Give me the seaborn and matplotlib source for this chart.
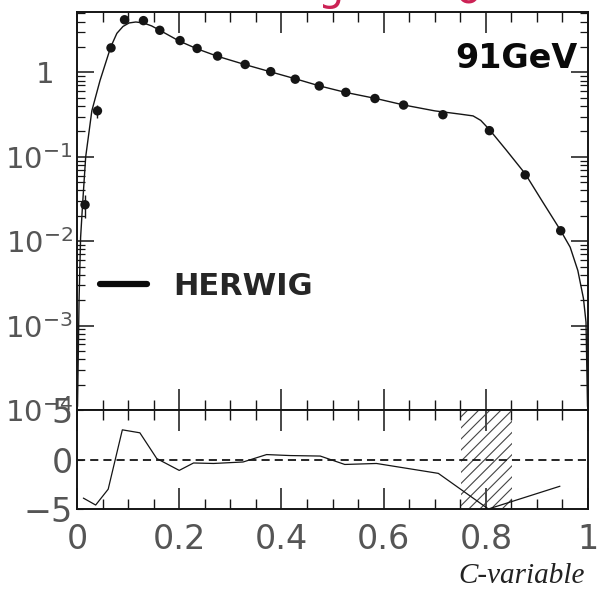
import numpy as np
import pandas as pd
import matplotlib
matplotlib.use("Agg")
import matplotlib.pyplot as plt
import seaborn as sns
from matplotlib.lines import Line2D
from matplotlib.ticker import MultipleLocator, LogLocator, NullFormatter

# ---- measured C-parameter distribution at 91 GeV ----
c_data = [0.0157, 0.040, 0.0665, 0.093, 0.130, 0.162, 0.2016, 0.235, 0.275, 0.329,
          0.379, 0.427, 0.474, 0.526, 0.583, 0.639, 0.716, 0.807, 0.877, 0.9465]
y_data = [0.027, 0.35, 1.95, 4.2, 4.1, 3.15, 2.38, 1.92, 1.56, 1.24,
          1.02, 0.83, 0.69, 0.58, 0.49, 0.41, 0.315, 0.204, 0.061, 0.0133]
y_err = [0.008, 0.06, 0.0, 0.0, 0.0, 0.0, 0.0, 0.0, 0.0, 0.0,
         0.0, 0.0, 0.0, 0.0, 0.0, 0.0, 0.0, 0.0, 0.0, 0.0]

# ---- HERWIG prediction ----
c_mc = [0.001, 0.004, 0.007, 0.011, 0.017, 0.029, 0.045, 0.066, 0.078, 0.090,
        0.102, 0.115, 0.130, 0.146, 0.162, 0.20, 0.235, 0.275, 0.33, 0.38,
        0.43, 0.475, 0.525, 0.585, 0.64, 0.70, 0.75, 0.775, 0.79, 0.807,
        0.84, 0.877, 0.91, 0.946, 0.965, 0.980, 0.991, 0.996, 0.999]
y_mc = [1.1e-4, 2e-3, 1.1e-2, 2.8e-2, 0.1, 0.35, 0.8, 2.0, 2.9, 3.5,
        3.85, 3.95, 3.85, 3.55, 3.15, 2.35, 1.9, 1.55, 1.23, 1.01,
        0.83, 0.69, 0.58, 0.49, 0.41, 0.35, 0.32, 0.305, 0.27, 0.21,
        0.12, 0.063, 0.03, 0.0135, 0.0085, 0.0045, 0.0021, 0.0011, 1.1e-4]

# ---- deviation of data from HERWIG ----
c_dev = [0.0124, 0.0365, 0.061, 0.0887, 0.123, 0.156, 0.20, 0.228, 0.267, 0.325,
         0.371, 0.417, 0.476, 0.524, 0.586, 0.707, 0.805, 0.945]
dev = [-3.9, -4.6, -3.0, 3.0, 2.7, 0.1, -1.1, -0.35, -0.4, -0.25,
       0.5, 0.4, 0.35, -0.5, -0.4, -1.4, -5.0, -2.7]

# excluded fit range
hatch_lo, hatch_hi = 0.751, 0.851

ytick_vals = [1e-4, 1e-3, 1e-2, 1e-1, 1]
ytick_labels = [r"$\mathdefault{10^{-4}}$", r"$\mathdefault{10^{-3}}$",
                r"$\mathdefault{10^{-2}}$", r"$\mathdefault{10^{-1}}$", "1  "]
xtick_vals = [0, 0.2, 0.4, 0.6, 0.8, 1.0]
xtick_labels = ["0", "0.2", "0.4", "0.6", "0.8", "1"]
dev_ticks = [-5, 0, 5]
dev_labels = ["\u22125", "0", "5"]

sns.set_style("ticks")
plt.rcParams["font.family"] = ["DejaVu Sans"]
plt.rcParams["hatch.linewidth"] = 0.8

data_df = pd.DataFrame({"C": c_data, "dist": y_data})
mc_df = pd.DataFrame({"C": c_mc, "dist": y_mc})
dev_df = pd.DataFrame({"C": c_dev, "dev": dev})

fig = plt.figure(figsize=(5.97, 5.96), dpi=100)
ax = fig.add_axes([0.129, 0.312, 0.856, 0.668])
axr = fig.add_axes([0.129, 0.146, 0.856, 0.166])

ink = "#151515"
lab = "#555555"

# upper panel: distribution
sns.lineplot(data=mc_df, x="C", y="dist", ax=ax, color=ink, lw=1.0, sort=False)
ax.errorbar(c_data, y_data, yerr=y_err, fmt="none", ecolor=ink, elinewidth=1.0)
sns.scatterplot(data=data_df, x="C", y="dist", ax=ax, color=ink, s=46,
                edgecolor="none", zorder=4)
ax.set_yscale("log")
ax.set_xlim(0, 1)
ax.set_ylim(1.05e-4, 5.2)
ax.set_xlabel("")
ax.set_ylabel("")
ax.xaxis.set_major_locator(MultipleLocator(0.2))
ax.xaxis.set_minor_locator(MultipleLocator(0.05))
ax.set_yticks(ytick_vals, ytick_labels)
ax.yaxis.set_minor_locator(LogLocator(base=10, subs=np.arange(2, 10)))
ax.yaxis.set_minor_formatter(NullFormatter())
ax.tick_params(axis="x", which="both", direction="in", top=True, bottom=True,
               labelbottom=False, color=ink)
ax.tick_params(axis="x", which="major", length=15, width=1.1)
ax.tick_params(axis="x", which="minor", length=7, width=1.0)
ax.tick_params(axis="y", which="both", direction="in", left=True, right=True,
               color=ink, labelsize=21, labelcolor=lab, pad=3)
ax.tick_params(axis="y", which="major", length=12, width=1.1)
ax.tick_params(axis="y", which="minor", length=6, width=0.9)

# lower panel: deviations
axr.fill_between([hatch_lo, hatch_hi], -5, 5, facecolor="none",
                 edgecolor="#444444", hatch="///", lw=0)
axr.axhline(0, color=ink, lw=1.3, dashes=(4.5, 2.8))
sns.lineplot(data=dev_df, x="C", y="dev", ax=axr, color=ink, lw=0.9, sort=False)
axr.set_xlim(0, 1)
axr.set_ylim(-5, 5)
axr.set_xlabel("")
axr.set_ylabel("")
axr.set_xticks(xtick_vals, xtick_labels)
axr.xaxis.set_minor_locator(MultipleLocator(0.05))
axr.set_yticks(dev_ticks, dev_labels)
axr.tick_params(axis="x", which="both", direction="in", top=True, bottom=True,
                color=ink, labelsize=24, labelcolor=lab, pad=10)
axr.tick_params(axis="x", which="major", length=15, width=1.1)
axr.tick_params(axis="x", which="minor", length=7, width=1.0)
axr.tick_params(axis="y", which="both", direction="in", left=True, right=False,
                length=4, color=ink, labelsize=24, labelcolor=lab, pad=3)

for a in (ax, axr):
    for s in a.spines.values():
        s.set_linewidth(1.4)
        s.set_color(ink)
        s.set_visible(True)

# handwritten notes
ax.text(0.859, 0.884, "91GeV", transform=ax.transAxes, ha="center",
        va="center", fontsize=24, fontweight="bold", color="#0a0a0a")
ax.legend(handles=[Line2D([], [], color="#0a0a0a", lw=4.5, solid_capstyle="round")],
          labels=["HERWIG"], loc="center left", bbox_to_anchor=(0.045, 0.31),
          frameon=False, borderpad=0, borderaxespad=0, handlelength=1.55,
          handletextpad=0.85, prop={"size": 22, "weight": "bold"})

fig.text(331 / 597, 1.0, "g", ha="center", va="baseline", fontsize=30,
         color="#cc2255")
fig.text(468 / 597, 1 - 4 / 596, "o", ha="center", va="baseline", fontsize=30,
         color="#cc2255")

fig.text(0.98, 1 - 576 / 596, "C-variable", ha="right", va="center",
         fontsize=21, style="italic", color="#222222",
         family=["Liberation Serif", "DejaVu Serif"])

fig.savefig("out.png", dpi=100, facecolor="white")
